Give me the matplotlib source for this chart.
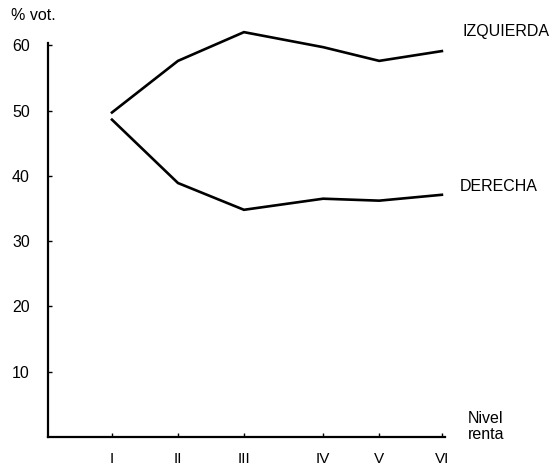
import matplotlib
matplotlib.use("Agg")
import matplotlib.pyplot as plt

levels = ["I", "II", "III", "IV", "V", "VI"]
level_pos = [1, 2, 3, 4.2, 5.05, 6.0]
izquierda = [49.7, 57.6, 62.0, 59.7, 57.6, 59.1]
derecha = [48.6, 38.9, 34.8, 36.5, 36.2, 37.1]
yticks = [10, 20, 30, 40, 50, 60]

plt.rcParams['font.family'] = ['Liberation Sans', 'DejaVu Sans']

fig = plt.figure(figsize=(5.54, 4.65), dpi=100)
ax = fig.add_axes([0.0866, 0.060, 0.717, 0.847])

ax.plot(level_pos, izquierda, color='black', lw=1.9, solid_joinstyle='miter', clip_on=False)
ax.plot(level_pos, derecha, color='black', lw=1.9, solid_joinstyle='miter', clip_on=False)

ax.set_xlim(0.03, 6.05)
ax.set_ylim(0, 60.3)
ax.set_yticks(yticks)
ax.set_yticklabels([str(v) for v in yticks], fontsize=11.5)
ax.set_xticks(level_pos)
ax.set_xticklabels(levels, fontsize=11)
ax.tick_params(axis='y', direction='in', length=3, width=1, pad=13)
ax.tick_params(axis='x', direction='in', length=3, width=1, pad=11)

for s in ['top', 'right']:
    ax.spines[s].set_visible(False)
for s in ['left', 'bottom']:
    ax.spines[s].set_linewidth(1.6)

fig.text(0.020, 0.966, "% vot.", fontsize=11.5, va='center', ha='left')
fig.text(0.835, 0.933, "IZQUIERDA", fontsize=11.5, va='center', ha='left')
fig.text(0.830, 0.598, "DERECHA", fontsize=11.5, va='center', ha='left')
fig.text(0.845, 0.083, "Nivel\nrenta", fontsize=11.5, va='center', ha='left', linespacing=1.05)

fig.savefig("out.png", dpi=100)
